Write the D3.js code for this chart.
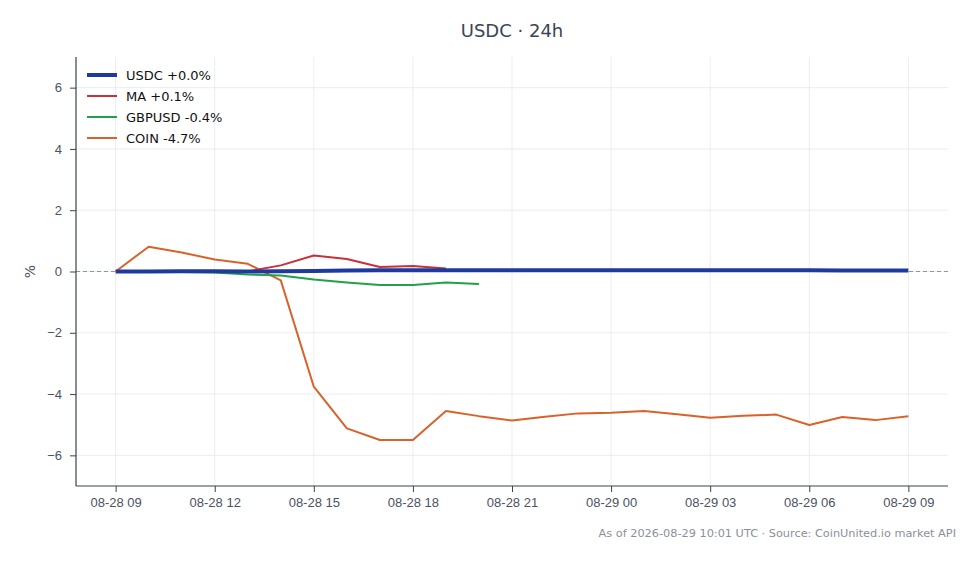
<!DOCTYPE html>
<html>
<head>
<meta charset="utf-8">
<script src="https://cdn.jsdelivr.net/npm/d3@7"></script>
<style>
  body { margin: 0; background: #fff; }
  svg { font-family: "DejaVu Sans", sans-serif; }
  .grid line { stroke: #e6e8ec; stroke-width: 0.8; }
  .axis path, .axis line { stroke: #3a4250; }
  .axis text { fill: #4a5363; font-size: 13px; }
</style>
</head>
<body>
<div id="chart"></div>
<script>
// hourly samples, 2026-08-28 09:00 .. 2026-08-29 09:00 UTC
var startTime = new Date(Date.UTC(2026, 7, 28, 9));

var usdcValues = [0.0, 0.0, 0.01, 0.01, 0.0, 0.01, 0.02, 0.03, 0.04, 0.04, 0.04, 0.04, 0.04,
  0.04, 0.04, 0.04, 0.04, 0.04, 0.04, 0.04, 0.04, 0.04, 0.03, 0.03, 0.03];
// MA starts at 13:00
var maValues = [0.0, 0.2, 0.52, 0.41, 0.15, 0.18, 0.1];
// GBPUSD starts at 10:00
var gbpValues = [0.0, -0.02, -0.03, -0.1, -0.13, -0.26, -0.36, -0.44, -0.44, -0.36, -0.41];
var coinValues = [0.0, 0.81, 0.62, 0.39, 0.25, -0.29, -3.76, -5.12, -5.5, -5.5, -4.55, -4.72,
  -4.86, -4.74, -4.63, -4.61, -4.55, -4.66, -4.77, -4.71, -4.67, -5.01, -4.75, -4.85, -4.72];

var seriesNames = ['USDC +0.0%', 'MA +0.1%', 'GBPUSD -0.4%', 'COIN -4.7%'];
var seriesColors = ['#1f3a9e', '#c9303a', '#23a04a', '#d9622a'];
var seriesWidths = [4, 2, 2, 2];
var seriesOffsets = [0, 4, 1, 0]; // first hour index of each series

var yTicks = [-6, -4, -2, 0, 2, 4, 6];

var width = 980, height = 564;
var margin = { top: 57, right: 32, bottom: 78, left: 76 };
var innerW = width - margin.left - margin.right;
var innerH = height - margin.top - margin.bottom;

var hour = 3600 * 1000;
var pad = 24 * 0.05 * hour;

var x = d3.scaleUtc()
    .domain([new Date(+startTime - pad), new Date(+startTime + 24 * hour + pad)])
    .range([0, innerW]);

var y = d3.scaleLinear()
    .domain([-7, 7])
    .range([innerH, 0]);

var xTicks = d3.range(0, 25, 3).map((h) => new Date(+startTime + h * hour));
var fmt = d3.utcFormat('%m-%d %H');

var svg = d3.select('#chart').append('svg')
    .attr('width', width)
    .attr('height', height);

var g = svg.append('g')
    .attr('transform', 'translate(' + margin.left + ',' + margin.top + ')');

// grid
var grid = g.append('g').attr('class', 'grid');
grid.selectAll('.gx').data(xTicks).enter().append('line')
    .attr('x1', (d) => x(d)).attr('x2', (d) => x(d))
    .attr('y1', 0).attr('y2', innerH);
grid.selectAll('.gy').data(yTicks).enter().append('line')
    .attr('x1', 0).attr('x2', innerW)
    .attr('y1', (d) => y(d)).attr('y2', (d) => y(d));

// zero reference
g.append('line')
    .attr('x1', 0).attr('x2', innerW)
    .attr('y1', y(0)).attr('y2', y(0))
    .attr('stroke', '#8a95a5')
    .attr('stroke-width', 1)
    .attr('stroke-dasharray', '4,3');

// lines
var allValues = [usdcValues, maValues, gbpValues, coinValues];
var line = d3.line()
    .x((d) => x(d.t))
    .y((d) => y(d.v));

// USDC is drawn last so it sits on top
var drawOrder = [3, 2, 1, 0];
drawOrder.forEach((i) => {
  var pts = allValues[i].map((v, k) => ({ t: new Date(+startTime + (seriesOffsets[i] + k) * hour), v: v }));
  g.append('path')
      .datum(pts)
      .attr('fill', 'none')
      .attr('stroke', seriesColors[i])
      .attr('stroke-width', seriesWidths[i])
      .attr('stroke-linejoin', 'round')
      .attr('d', line);
});

// axes
var xAxis = g.append('g')
    .attr('class', 'axis')
    .attr('transform', 'translate(0,' + innerH + ')')
    .call(d3.axisBottom(x).tickValues(xTicks).tickFormat(fmt).tickSize(6).tickPadding(6));
xAxis.select('.domain').attr('d', 'M0,0H' + innerW).attr('stroke-width', 1.2);

var yAxis = g.append('g')
    .attr('class', 'axis')
    .call(d3.axisLeft(y).tickValues(yTicks).tickFormat((d) => d < 0 ? '\u2212' + Math.abs(d) : d).tickSize(6).tickPadding(8));
yAxis.select('.domain').attr('d', 'M0,0V' + innerH).attr('stroke-width', 1.2);

// y label
svg.append('text')
    .attr('transform', 'translate(35,' + (margin.top + y(0)) + ') rotate(-90)')
    .attr('text-anchor', 'middle')
    .attr('fill', '#4a5363')
    .attr('font-size', 14)
    .text('%');

// title
svg.append('text')
    .attr('x', margin.left + innerW / 2)
    .attr('y', 37)
    .attr('text-anchor', 'middle')
    .attr('fill', '#3b4556')
    .attr('font-size', 18)
    .text('USDC \u00b7 24h');

// legend
var legend = g.append('g').attr('transform', 'translate(11,18)');
seriesNames.forEach((name, i) => {
  var row = legend.append('g').attr('transform', 'translate(0,' + (i * 21) + ')');
  row.append('line')
      .attr('x1', 0).attr('x2', 30)
      .attr('stroke', seriesColors[i])
      .attr('stroke-width', seriesWidths[i]);
  row.append('text')
      .attr('x', 39).attr('y', 5)
      .attr('font-size', 13)
      .attr('fill', '#111')
      .text(name);
});

// footer
svg.append('text')
    .attr('x', 956)
    .attr('y', 537)
    .attr('text-anchor', 'end')
    .attr('fill', '#8a909a')
    .attr('font-size', 11.3)
    .text('As of 2026-08-29 10:01 UTC \u00b7 Source: CoinUnited.io market API');
</script>
</body>
</html>
